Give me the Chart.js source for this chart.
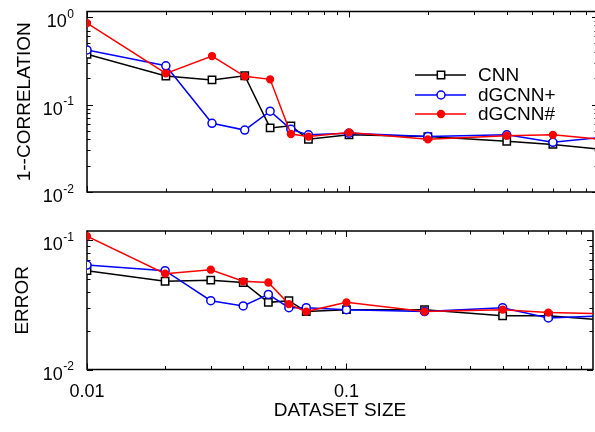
<!DOCTYPE html>
<html>
<head>
<meta charset="utf-8">
<script src="https://cdn.jsdelivr.net/npm/chart.js@4.4.1/dist/chart.umd.min.js"></script>
<style>
  html, body { margin: 0; padding: 0; background: #fff; overflow: hidden; }
  #pagina { position: relative; width: 595px; height: 432px; overflow: hidden; }
  .panel { position: absolute; left: 0; width: 605px; }
  #arriba { top: 0; height: 215px; }
  #abajo { top: 200px; height: 232px; }
</style>
</head>
<body>
<div id="pagina">
  <div class="panel" id="arriba"><canvas id="graficaCorr"></canvas></div>
  <div class="panel" id="abajo"><canvas id="graficaError"></canvas></div>
</div>
<script>
// tamaños del dataset (eje x, logarítmico)
const tamanos = [0.01, 0.02, 0.03, 0.04, 0.05, 0.06, 0.07, 0.1, 0.2, 0.4, 0.6, 1.0];
const nombres = ['CNN', 'dGCNN+', 'dGCNN#'];

// panel de arriba: 1 - correlación
const corrCNN  = [0.375, 0.212, 0.191, 0.213, 0.054, 0.057, 0.040, 0.045, 0.043, 0.038, 0.035, 0.030];
const corrMas  = [0.42, 0.277, 0.061, 0.051, 0.084, 0.052, 0.045, 0.047, 0.043, 0.045, 0.037, 0.043];
const corrAlmo = [0.85, 0.227, 0.358, 0.21, 0.194, 0.046, 0.043, 0.048, 0.040, 0.044, 0.045, 0.039];

// panel de abajo: error
const errCNN  = [0.058, 0.048, 0.049, 0.047, 0.033, 0.034, 0.028, 0.029, 0.029, 0.026, 0.026, 0.024];
const errMas  = [0.064, 0.058, 0.034, 0.031, 0.038, 0.030, 0.030, 0.029, 0.028, 0.030, 0.025, 0.026];
const errAlmo = [0.107, 0.055, 0.059, 0.048, 0.047, 0.032, 0.028, 0.033, 0.028, 0.029, 0.0275, 0.027];

const etiquetasX = ['0.01', '0.1'];
const exponentesY = ['-2', '-1', '0'];

const fuente = '"Liberation Sans", Arial, Helvetica, sans-serif';
Chart.defaults.font.family = fuente;
Chart.defaults.color = '#000';

const estilos = [
  { color: '#000000', forma: 'rect', radio: 5.2, relleno: '#ffffff', orden: 2 },
  { color: '#0000ff', forma: 'circle', radio: 4, relleno: '#ffffff', orden: 1 },
  { color: '#ff0000', forma: 'circle', radio: 3.4, relleno: '#ff0000', orden: 0 }
];

function series(...valores) {
  return valores.map((vals, i) => ({
    label: nombres[i],
    data: tamanos.map((t, j) => ({ x: t, y: vals[j] })),
    borderColor: estilos[i].color,
    borderWidth: 1.5,
    pointStyle: estilos[i].forma,
    pointRadius: estilos[i].radio,
    pointBorderWidth: 1.5,
    pointBorderColor: estilos[i].color,
    pointBackgroundColor: estilos[i].relleno,
    tension: 0,
    order: estilos[i].orden
  }));
}

function esPotencia(v) {
  const e = Math.log10(v);
  return Math.abs(e - Math.round(e)) < 1e-6;
}

function etiquetaX(v) {
  if (!esPotencia(v)) return '';
  return etiquetasX[Math.round(Math.log10(v)) + 2] || '';
}

function marcasLog(min, max) {
  const marcas = [];
  for (let e = Math.floor(Math.log10(min)); e <= Math.ceil(Math.log10(max)); e++) {
    for (let m = 1; m <= 9; m++) {
      const v = m * Math.pow(10, e);
      if (v >= min * 0.999 && v <= max * 1.001) marcas.push({ v, mayor: m === 1 });
    }
  }
  return marcas;
}

// marco con marcas hacia dentro, como en gnuplot
const marco = {
  id: 'marco',
  beforeDatasetsDraw(chart) {
    const { ctx, chartArea: a, scales: { x, y } } = chart;
    ctx.save();
    ctx.strokeStyle = '#000';
    ctx.lineWidth = 1;
    ctx.beginPath();
    marcasLog(x.min, x.max).forEach(m => {
      const px = Math.round(x.getPixelForValue(m.v)) + 0.5;
      const l = m.mayor ? 6 : 3.5;
      ctx.moveTo(px, a.bottom); ctx.lineTo(px, a.bottom - l);
      ctx.moveTo(px, a.top); ctx.lineTo(px, a.top + l);
    });
    marcasLog(y.min, y.max).forEach(m => {
      const py = Math.round(y.getPixelForValue(m.v)) + 0.5;
      const l = m.mayor ? 6 : 3.5;
      ctx.moveTo(a.left, py); ctx.lineTo(a.left + l, py);
      ctx.moveTo(a.right, py); ctx.lineTo(a.right - l, py);
    });
    ctx.stroke();
    ctx.lineWidth = 1.5;
    ctx.strokeRect(a.left, a.top, a.right - a.left, a.bottom - a.top);

    // etiquetas 10^n del eje y, con el exponente elevado
    ctx.fillStyle = '#000';
    ctx.textBaseline = 'alphabetic';
    ctx.textAlign = 'left';
    y.ticks.filter(t => esPotencia(t.value)).forEach(t => {
      const exp = exponentesY[Math.round(Math.log10(t.value)) + 2];
      if (exp === undefined) return;
      const py = y.getPixelForValue(t.value);
      ctx.font = `12px ${fuente}`;
      const wExp = ctx.measureText(exp).width;
      ctx.fillText(exp, 74 - wExp, py + 0.5);
      ctx.font = `18px ${fuente}`;
      const wBase = ctx.measureText('10').width;
      ctx.fillText('10', 74 - wExp - wBase - 0.5, py + 10);
    });
    ctx.restore();
  }
};

const leyenda = {
  id: 'leyenda',
  afterDatasetsDraw(chart) {
    const { ctx } = chart;
    const filas = [75, 95, 114];
    ctx.save();
    ctx.font = `19px ${fuente}`;
    ctx.textBaseline = 'middle';
    ctx.textAlign = 'left';
    nombres.forEach((nombre, i) => {
      const y = filas[i];
      const est = estilos[i];
      ctx.strokeStyle = est.color;
      ctx.lineWidth = 1.5;
      ctx.beginPath();
      ctx.moveTo(415, y); ctx.lineTo(466, y);
      ctx.stroke();
      ctx.fillStyle = est.relleno;
      ctx.beginPath();
      if (est.forma === 'rect') {
        const s = est.radio * Math.SQRT1_2;
        ctx.rect(441 - s, y - s, 2 * s, 2 * s);
      } else {
        ctx.arc(441, y, est.radio, 0, Math.PI * 2);
      }
      ctx.fill();
      ctx.stroke();
      ctx.fillStyle = '#000';
      ctx.fillText(nombre, 478, y + 1);
    });
    ctx.restore();
  }
};

function opciones(yMax, tituloY, padTitulo, conX, padArriba, altoX) {
  return {
    responsive: true,
    maintainAspectRatio: false,
    animation: false,
    layout: { autoPadding: false, padding: { top: padArriba, right: 7, bottom: 0, left: 0 } },
    plugins: { legend: { display: false }, tooltip: { enabled: false } },
    scales: {
      x: {
        type: 'logarithmic', min: 0.01, max: 0.892,
        grid: { display: false, drawTicks: false },
        border: { display: false },
        ticks: { display: conX, callback: etiquetaX, autoSkip: false, maxRotation: 0, padding: 12, font: { size: 18 } },
        title: { display: conX, text: 'DATASET SIZE', font: { size: 19 }, padding: { top: 0, bottom: 10 } },
        afterFit: s => { s.height = altoX; }
      },
      y: {
        type: 'logarithmic', min: 0.01, max: yMax,
        grid: { display: false, drawTicks: false },
        border: { display: false },
        ticks: { display: false, autoSkip: false },
        title: { display: true, text: tituloY, font: { size: 19 }, padding: { top: padTitulo, bottom: 0 } },
        afterFit: s => { s.width = 87; }
      }
    }
  };
}

new Chart(document.getElementById('graficaCorr'), {
  type: 'line',
  data: { datasets: series(corrCNN, corrMas, corrAlmo) },
  options: opciones(1.156, '1--CORRELATION', 13, false, 11.5, 23),
  plugins: [marco, leyenda]
});

new Chart(document.getElementById('graficaError'), {
  type: 'line',
  data: { datasets: series(errCNN, errMas, errAlmo) },
  options: opciones(0.1174, 'ERROR', 11, true, 31, 62.5),
  plugins: [marco]
});
</script>
</body>
</html>
